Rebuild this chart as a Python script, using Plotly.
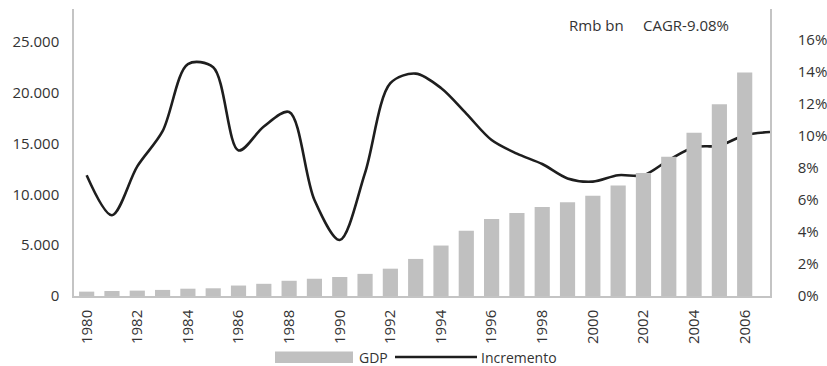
import plotly.graph_objects as go

years = list(range(1980, 2007))
gdp = [430, 490, 530, 600, 720, 760, 1030, 1200, 1500, 1700, 1870, 2180, 2690, 3650,
       4970, 6420, 7580, 8170, 8760, 9220, 9880, 10870, 12120, 13700, 16070, 18870, 22000]
line_years = list(range(1980, 2008))
increment = [0.0755, 0.0505, 0.081, 0.103, 0.145, 0.143, 0.091, 0.106, 0.115, 0.060,
             0.035, 0.077, 0.133, 0.139, 0.130, 0.114, 0.0975, 0.089, 0.0825, 0.0735,
             0.0715, 0.0755, 0.0755, 0.085, 0.093, 0.094, 0.1005, 0.1025]
x_ticks = list(range(1980, 2007, 2))
left_ticks = [0, 5000, 10000, 15000, 20000, 25000]
right_ticks = [0, 0.02, 0.04, 0.06, 0.08, 0.10, 0.12, 0.14, 0.16]

W, H = 827, 366
L, R, T, B = 74, 770, 9, 296
pw, ph = R - L, B - T

def px(x):
    return (x - L) / pw

def py(y):
    return (B - y) / ph

FONT = "Open Sans"
TXT = "#333333"
AX = "#c4c4c4"

fig = go.Figure()
fig.add_trace(go.Scatter(x=line_years, y=increment, mode="lines", name="Incremento",
                         line=dict(color="#1e1e1e", width=2.6, shape="spline", smoothing=0.9),
                         yaxis="y", showlegend=False, cliponaxis=True))
fig.add_trace(go.Bar(x=years, y=gdp, name="GDP", marker=dict(color="#c0c0c0", line=dict(width=0)),
                     width=0.6, yaxis="y2", showlegend=False))

fig.update_layout(
    width=W, height=H,
    margin=dict(l=L, r=W - R, t=T, b=H - B, pad=0, autoexpand=False),
    paper_bgcolor="white", plot_bgcolor="white",
    separators=",.",
    font=dict(family=FONT, size=15, color=TXT),
    showlegend=False,
    xaxis=dict(range=[1979.5, 2007], tickvals=x_ticks, ticktext=[str(v) for v in x_ticks],
               tickangle=-90, showgrid=False, zeroline=False, showline=True, linecolor=AX,
               linewidth=1.5, ticks="", ticklabelstandoff=6, automargin=False),
    yaxis=dict(side="right", range=[0, 0.1794], tickvals=right_ticks, tickformat=".0%",
               showgrid=False, zeroline=False, showline=True, linecolor=AX, linewidth=1.5,
               ticks="", ticklabelstandoff=23, automargin=False),
    yaxis2=dict(side="left", overlaying="y", range=[0, 28260], tickvals=left_ticks,
                tickformat=",.0f", showgrid=False, zeroline=False, showline=True,
                linecolor=AX, linewidth=1.5, ticks="", ticklabelstandoff=10, automargin=False),
)

fig.add_annotation(x=px(567), y=py(25), xref="paper", yref="paper", xanchor="left",
                   yanchor="middle", text="Rmb bn", showarrow=False,
                   font=dict(family=FONT, size=15, color=TXT))
fig.add_annotation(x=px(641), y=py(25), xref="paper", yref="paper", xanchor="left",
                   yanchor="middle", text="CAGR-9.08%", showarrow=False,
                   font=dict(family=FONT, size=15, color=TXT))

# legend drawn manually
fig.add_shape(type="rect", xref="paper", yref="paper", x0=px(275), x1=px(353),
              y0=py(351.5), y1=py(363), fillcolor="#c0c0c0", line=dict(width=0))
fig.add_annotation(x=px(357), y=py(357), xref="paper", yref="paper", xanchor="left",
                   yanchor="middle", text="GDP", showarrow=False,
                   font=dict(family=FONT, size=14, color=TXT))
fig.add_shape(type="line", xref="paper", yref="paper", x0=px(395), x1=px(477),
              y0=py(357), y1=py(357), line=dict(color="#1e1e1e", width=2.4))
fig.add_annotation(x=px(479), y=py(357), xref="paper", yref="paper", xanchor="left",
                   yanchor="middle", text="Incremento", showarrow=False,
                   font=dict(family=FONT, size=14, color=TXT))

fig.write_html("out.html")
